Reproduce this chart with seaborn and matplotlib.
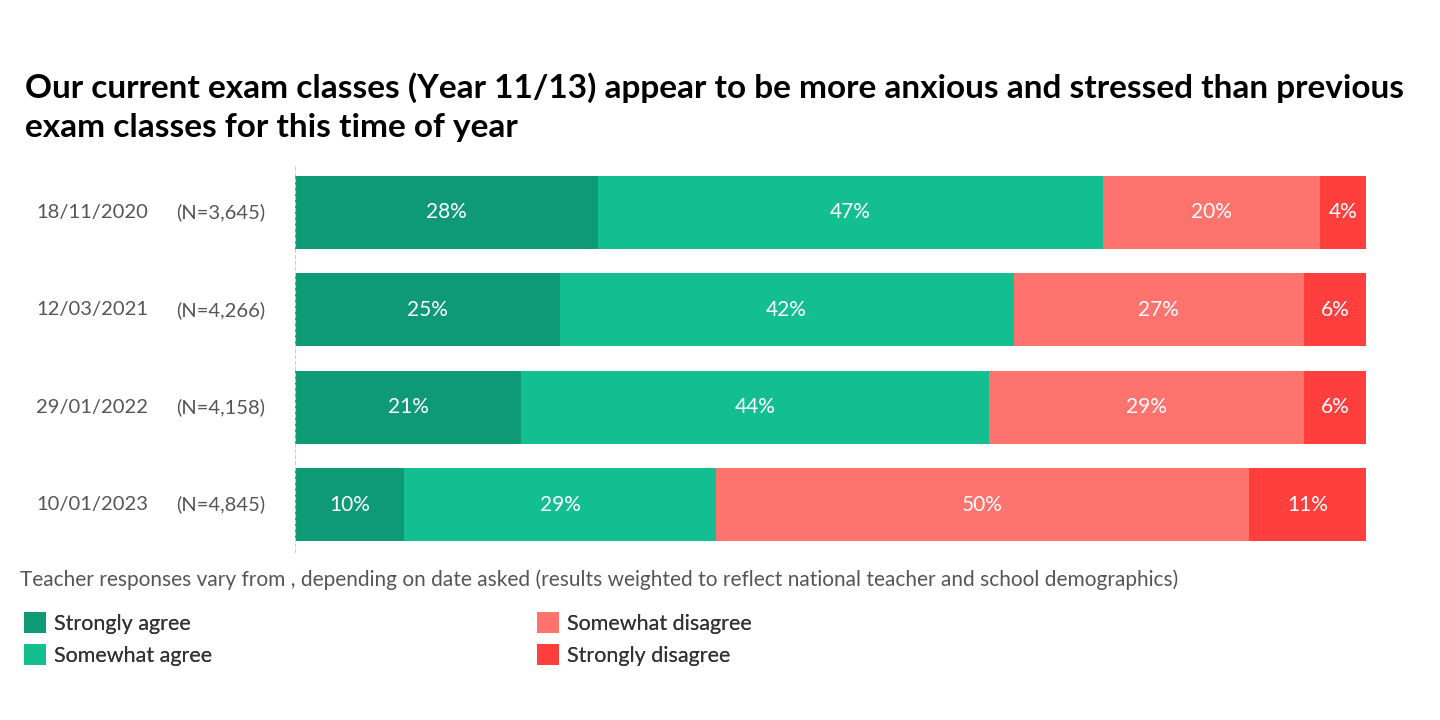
import matplotlib.pyplot as plt
import matplotlib.transforms as mtransforms
from matplotlib.patches import Patch
import pandas as pd
import seaborn as sns

dates = ['18/11/2020', '12/03/2021', '29/01/2022', '10/01/2023']
sample_sizes = ['(N=3,645)', '(N=4,266)', '(N=4,158)', '(N=4,845)']
categories = ['Strongly agree', 'Somewhat agree', 'Somewhat disagree', 'Strongly disagree']
strongly_agree = [28.3, 24.7, 21.1, 10.2]
somewhat_agree = [47.1, 42.4, 43.7, 29.1]
somewhat_disagree = [20.3, 27.1, 29.4, 49.8]
strongly_disagree = [4.3, 5.8, 5.8, 10.9]

colors = ['#0E9A77', '#13BF90', '#FF736E', '#FF3E3E']

sns.set_theme(style='white')
plt.rcParams['font.family'] = ['Lato', 'DejaVu Sans']

df = pd.DataFrame({'date': dates,
                   'Strongly agree': strongly_agree,
                   'Somewhat agree': somewhat_agree,
                   'Somewhat disagree': somewhat_disagree,
                   'Strongly disagree': strongly_disagree})
cum = df[categories].cumsum(axis=1)

fig = plt.figure(figsize=(14.4, 7.2), dpi=100)
ax = fig.add_axes([0.2049, 0.2316, 0.7437, 0.541])

# stacked bars: draw cumulative totals from the right-most segment backwards
for cat, col in reversed(list(zip(categories, colors))):
    sns.barplot(data=cum.assign(date=dates), x=cat, y='date', color=col,
                orient='h', width=0.75, linewidth=0, saturation=1, ax=ax)

for i in range(len(dates)):
    for cat in categories:
        val = df.loc[i, cat]
        ax.text(cum.loc[i, cat] - val / 2, i, f'{round(val)}%', ha='center', va='center',
                color='white', fontsize=15)

ax.set_xlim(0, 100)
ax.set_ylim(3.5, -0.5)
ax.axvline(0, color='#cccccc', ls='--', lw=0.8)
sns.despine(ax=ax, left=True, bottom=True)
ax.set_xticks([])
ax.set_yticks([])
ax.set_xlabel('')
ax.set_ylabel('')

trans = mtransforms.blended_transform_factory(ax.transAxes, ax.transData)
for i, (d, n) in enumerate(zip(dates, sample_sizes)):
    ax.text(-0.1895, i, d, transform=trans, ha='center', va='center', fontsize=14.5, color='#555555')
    ax.text(-0.111, i, n, transform=trans, ha='left', va='center', fontsize=14.5, color='#555555')

fig.text(25 / 1440, 1 - 107 / 720,
         'Our current exam classes (Year 11/13) appear to be more anxious and stressed than previous\n'
         'exam classes for this time of year',
         ha='left', va='center', fontsize=24, fontweight='bold', color='black', linespacing=1.42)

fig.text(20 / 1440, 1 - 580 / 720,
         'Teacher responses vary from , depending on date asked (results weighted to reflect national teacher and school demographics)',
         ha='left', va='center', fontsize=15, color='#555555')

handles = [Patch(facecolor=c, edgecolor='none', label=l) for c, l in zip(colors, categories)]
for start, xpos in [(0, 24), (2, 537)]:
    leg = fig.legend(handles=handles[start:start + 2], loc='upper left',
                     bbox_to_anchor=(xpos / 1440, 1 - 612 / 720), frameon=False,
                     fontsize=15.5, handlelength=1.0, handleheight=1.1, handletextpad=0.4,
                     labelspacing=0.5, borderpad=0, borderaxespad=0)
    for t in leg.get_texts():
        t.set_color('#333333')
    fig.add_artist(leg)

fig.savefig('out.png', dpi=100)
